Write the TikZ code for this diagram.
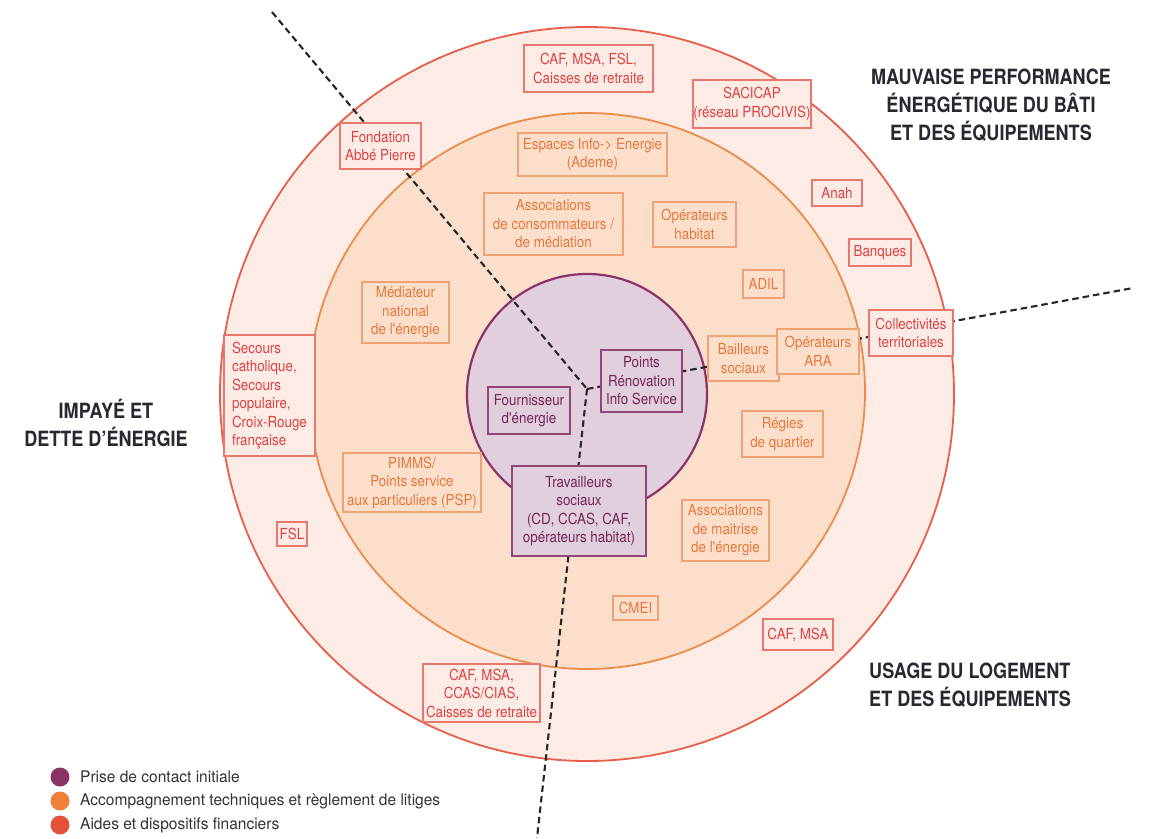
\documentclass[tikz,border=0pt]{standalone}
\usepackage{fontspec}
\newfontfamily\boxfont[FakeStretch=0.88]{TeX Gyre Heros}
\newfontfamily\headfont[FakeStretch=0.86]{TeX Gyre Heros}
\newfontfamily\legfont[FakeStretch=0.97]{TeX Gyre Heros}
\definecolor{outerfill}{RGB}{253,236,230}
\definecolor{outerline}{RGB}{230,95,75}
\definecolor{midfill}{RGB}{251,223,203}
\definecolor{midline}{RGB}{236,140,75}
\definecolor{innfill}{RGB}{226,207,221}
\definecolor{innline}{RGB}{140,50,105}
\definecolor{redtext}{RGB}{220,66,66}
\definecolor{redbox}{RGB}{232,120,110}
\definecolor{orgtext}{RGB}{230,120,60}
\definecolor{orgbox}{RGB}{240,162,118}
\definecolor{purtext}{RGB}{115,38,88}
\definecolor{purbox}{RGB}{145,70,120}
\definecolor{headcol}{RGB}{40,40,50}
\definecolor{legpur}{RGB}{140,50,100}
\definecolor{legorg}{RGB}{238,128,58}
\definecolor{legred}{RGB}{228,82,58}
\definecolor{legtext}{RGB}{50,50,55}
\tikzset{
  basebox/.style={draw, line width=1.2pt, inner sep=0pt, align=center,
    font=\boxfont\fontsize{15.2}{18.5}\selectfont},
  redb/.style={basebox, draw=redbox, fill=outerfill, text=redtext},
  orgb/.style={basebox, draw=orgbox, fill=midfill, text=orgtext},
  purb/.style={basebox, draw=purbox, fill=innfill, text=purtext},
  sz/.style 2 args={minimum width=#1pt, minimum height=#2pt},
  divider/.style={draw=black!85, line width=2.1pt, dash pattern=on 6.5pt off 4pt},
  heading/.style={text=headcol, inner sep=0pt,
    font=\headfont\bfseries\fontsize{21}{28}\selectfont},
  legdot/.style={circle, inner sep=0pt, minimum size=19pt},
  legtxt/.style={anchor=west, inner sep=0pt, text=legtext,
    font=\legfont\fontsize{16}{18}\selectfont},
}
\begin{document}
\begin{tikzpicture}[x=1pt,y=-1pt]
\useasboundingbox (0,0) rectangle (1150,838);
\fill[white] (0,0) rectangle (1150,838);
% rings
\filldraw[fill=outerfill, draw=outerline, line width=1.8pt] (587,394) circle (367);
\filldraw[fill=midfill, draw=midline, line width=1.8pt] (587,391) circle (278);
\filldraw[fill=innfill, draw=innline, line width=2.2pt] (587,394) circle (120);
% dividers
\coordinate (c) at (587,389);
\coordinate (d1) at (272,12);
\coordinate (d2) at (1133,288);
\coordinate (d3) at (537,838);
\draw[divider] (d1) -- (c);
\draw[divider] (c) -- (d2);
\draw[divider] (c) -- (d3);
% outer ring boxes
\node[redb, sz={129}{47}] (cafa) at (588.5,68.5) {CAF, MSA, FSL,\\Caisses de retraite};
\node[redb, sz={118}{48}] (sacicap) at (752,104) {SACICAP\\(réseau PROCIVIS)};
\node[redb, sz={81}{46}] (fondation) at (380.5,146) {Fondation\\Abbé Pierre};
\node[redb, sz={50}{26}] (anah) at (837,193) {Anah};
\node[redb, sz={62}{27}] (banques) at (880,252.5) {Banques};
\node[redb, sz={84}{46}] (collect) at (911,333) {Collectivités\\territoriales};
\node[redb, sz={91}{121}, align=left] (secours) at (269.5,395.5) {Secours\\catholique,\\Secours\\populaire,\\Croix-Rouge\\française};
\node[redb, sz={30}{24}] (fsl) at (292,534) {FSL};
\node[redb, sz={117}{58}] (cafb) at (481.5,693) {CAF, MSA,\\CCAS/CIAS,\\Caisses de retraite};
\node[redb, sz={70}{31}] (cafc) at (798,634.5) {CAF, MSA};
% middle ring boxes
\node[orgb, sz={149}{43}] (espaces) at (592.5,154.5) {Espaces Info-> Energie\\(Ademe)};
\node[orgb, sz={139}{62}] (assoc) at (553.5,224) {Associations\\de consommateurs /\\de médiation};
\node[orgb, sz={83}{45}] (ophab) at (694.5,224.5) {Opérateurs\\habitat};
\node[orgb, sz={41}{28}] (adil) at (763.5,284) {ADIL};
\node[orgb, sz={87}{61}] (mediateur) at (405.5,312.5) {Médiateur\\national\\de l'énergie};
\node[orgb, sz={71}{45}] (bailleurs) at (743.5,358.5) {Bailleurs\\sociaux};
\node[orgb, sz={82}{45}] (opara) at (818,351.5) {Opérateurs\\ARA};
\node[orgb, sz={81}{46}] (regies) at (782.5,434) {Régies\\de quartier};
\node[orgb, sz={138}{59}] (pimms) at (412,482.5) {PIMMS/\\Points service\\aux particuliers (PSP)};
\node[orgb, sz={87}{61}] (maitrise) at (725.5,530.5) {Associations\\de maitrise\\de l'énergie};
\node[orgb, sz={45}{24}] (cmei) at (635.5,608) {CMEI};
% inner circle boxes
\node[purb, sz={81}{62}] (points) at (641.5,381) {Points\\Rénovation\\Info Service};
\node[purb, sz={82}{47}] (fournisseur) at (529,410.5) {Fournisseur\\d'énergie};
\node[purb, sz={134}{90}] (travailleurs) at (579,511) {Travailleurs\\sociaux\\(CD, CCAS, CAF,\\opérateurs habitat)};
% headings
\node[heading, align=center] (hperf) at (991,105) {MAUVAISE PERFORMANCE\\ÉNERGÉTIQUE DU BÂTI\\ET DES ÉQUIPEMENTS};
\node[heading, align=center] (himp) at (106,423) {IMPAYÉ ET\\DETTE D’ÉNERGIE};
\node[heading, align=left, anchor=west] (husage) at (869,685.5) {USAGE DU LOGEMENT\\ET DES ÉQUIPEMENTS};
% legend
\node[legdot, fill=legpur] (l1) at (60,777) {};
\node[legdot, fill=legorg] (l2) at (60,801) {};
\node[legdot, fill=legred] (l3) at (60,825) {};
\node[legtxt] (t1) at (80,777) {Prise de contact initiale};
\node[legtxt] (t2) at (80,801) {Accompagnement techniques et règlement de litiges};
\node[legtxt] (t3) at (80,825) {Aides et dispositifs financiers};
\end{tikzpicture}
\end{document}
